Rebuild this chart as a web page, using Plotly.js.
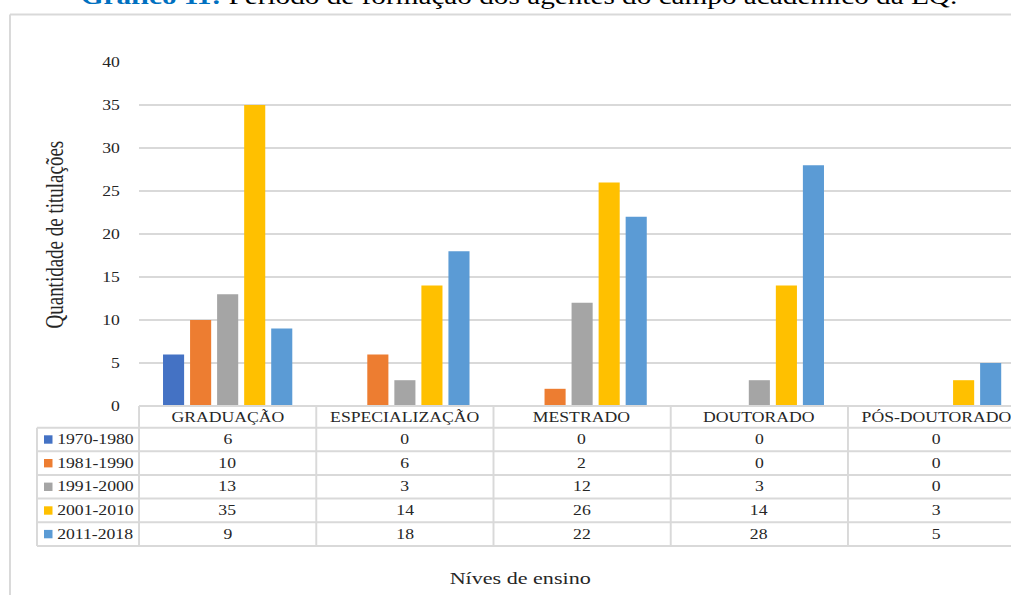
<!DOCTYPE html>
<html>
<head>
<meta charset="utf-8">
<script src="https://cdn.plot.ly/plotly-3.0.1.min.js"></script>
<style>
  html, body { margin: 0; padding: 0; background: #fff; overflow: hidden; }
  /* the figure is drawn narrower and widened horizontally, as in the printed page */
  #chart { width: 778px; height: 595px; transform: scaleX(1.2995); transform-origin: 0 0; }
</style>
</head>
<body>
<div id="chart"></div>
<script>
// Níveis de ensino (categorias do eixo X)
const categories = ['GRADUAÇÃO', 'ESPECIALIZAÇÃO', 'MESTRADO', 'DOUTORADO', 'PÓS-DOUTORADO'];

// Períodos de formação
const periods = ['1970-1980', '1981-1990', '1991-2000', '2001-2010', '2011-2018'];

// Quantidade de titulações por período
const v1970_1980 = [6, 0, 0, 0, 0];
const v1981_1990 = [10, 6, 2, 0, 0];
const v1991_2000 = [13, 3, 12, 3, 0];
const v2001_2010 = [35, 14, 26, 14, 3];
const v2011_2018 = [9, 18, 22, 28, 5];

const yTicks = [0, 5, 10, 15, 20, 25, 30, 35, 40];

const seriesValues = [v1970_1980, v1981_1990, v1991_2000, v2001_2010, v2011_2018];
const colors = ['#4472c4', '#ed7d31', '#a5a5a5', '#ffc000', '#5b9bd5'];

const FONT = 'Liberation Serif, Times New Roman, DejaVu Serif, serif';
const TEXT = '#262626';
const GRID = '#d9d9d9';

// Geometry: horizontal stretch of the page and plot area placement
const S = 1011 / 778;
const W = 778, H = 595;
const L = 107, T = 62, B = 406;
const plotW = W - L, plotH = B - T;
const px = x => (x / S - L) / plotW;  // page x -> paper x
const py = y => (B - y) / plotH;      // page y -> paper y

const traces = periods.map((name, i) => ({
  type: 'bar',
  name: name,
  x: categories,
  y: seriesValues[i],
  marker: { color: colors[i], line: { width: 0 } },
  hoverinfo: 'x+y+name'
}));

// Data table under the chart
const rowLines = [427.7, 451.3, 475, 498.6, 522.3, 546];
const rowCenters = [439.5, 463.2, 486.8, 510.5, 534.1];
const shapes = [];
const annotations = [];
const hLine = { color: GRID, width: 2 };
const vLine = { color: GRID, width: 1.5 };

// Outer chart frame
shapes.push({ type: 'line', xref: 'paper', yref: 'paper', x0: px(10), x1: px(1020), y0: py(14.5), y1: py(14.5), line: hLine });
shapes.push({ type: 'line', xref: 'paper', yref: 'paper', x0: px(10), x1: px(10), y0: py(14.5), y1: py(H + 5), line: vLine });

// Header top border
shapes.push({ type: 'line', xref: 'paper', yref: 'paper', x0: 0, x1: px(1020), y0: 0, y1: 0, line: hLine });
// Row borders
rowLines.forEach(y => {
  shapes.push({ type: 'line', xref: 'paper', yref: 'paper', x0: px(37), x1: px(1020), y0: py(y), y1: py(y), line: hLine });
});
// Column borders
shapes.push({ type: 'line', xref: 'paper', yref: 'paper', x0: px(37), x1: px(37), y0: py(rowLines[0]), y1: py(546), line: vLine });
shapes.push({ type: 'line', xref: 'paper', yref: 'paper', x0: 0, x1: 0, y0: 0, y1: py(546), line: vLine });
categories.forEach((c, i) => {
  if (i === 0) return;
  shapes.push({ type: 'line', xref: 'x', yref: 'paper', x0: i - 0.5, x1: i - 0.5, y0: 0, y1: py(546), line: vLine });
});

// Header row: category names
categories.forEach(c => {
  annotations.push({ xref: 'x', yref: 'paper', x: c, y: py(417), text: c, showarrow: false, xanchor: 'center', yanchor: 'middle', font: { family: FONT, size: 13.6, color: TEXT } });
});

// Legend keys + values per row
periods.forEach((p, r) => {
  const yc = rowCenters[r];
  shapes.push({ type: 'rect', xref: 'paper', yref: 'paper', x0: px(44), x1: px(52.5), y0: py(yc + 4.2), y1: py(yc - 4.2), fillcolor: colors[r], line: { width: 0 } });
  annotations.push({ xref: 'paper', yref: 'paper', x: px(54), y: py(yc), text: p, showarrow: false, xanchor: 'left', yanchor: 'middle', font: { family: FONT, size: 13.6, color: TEXT } });
  seriesValues[r].forEach((v, i) => {
    annotations.push({ xref: 'x', yref: 'paper', x: categories[i], y: py(yc), text: String(v), showarrow: false, xanchor: 'center', yanchor: 'middle', font: { family: FONT, size: 13.6, color: TEXT } });
  });
});

// Title (top of the page)
annotations.push({
  xref: 'paper', yref: 'paper', x: px(519), y: py(11), xanchor: 'center', yanchor: 'bottom', showarrow: false,
  text: '<b><span style="color:#0070c0">Gráfico 11:</span></b> Período de formação dos agentes do campo acadêmico da EQ.',
  font: { family: FONT, size: 22.5, color: '#000' }
});

// Axis titles
annotations.push({ xref: 'paper', yref: 'paper', x: px(54), y: py(235), text: 'Quantidade de titulações', textangle: -90, showarrow: false, xanchor: 'center', yanchor: 'middle', font: { family: FONT, size: 19, color: TEXT } });
annotations.push({ xref: 'paper', yref: 'paper', x: px(521), y: py(578), text: 'Níves de ensino', showarrow: false, xanchor: 'center', yanchor: 'middle', font: { family: FONT, size: 17, color: TEXT } });

const layout = {
  width: W, height: H,
  margin: { l: L, r: 0, t: T, b: H - B, pad: 0 },
  paper_bgcolor: '#fff', plot_bgcolor: '#fff',
  showlegend: false,
  barmode: 'group',
  bargap: 0.237,
  bargroupgap: 0.22,
  xaxis: {
    type: 'category',
    range: [-0.5, 4.42],
    showticklabels: false,
    showgrid: false, zeroline: false, showline: false, ticks: '',
    fixedrange: true
  },
  yaxis: {
    range: [0, 40],
    tickvals: yTicks,
    ticktext: yTicks.map(String),
    showgrid: true, gridcolor: GRID, gridwidth: 2,
    zeroline: false, showline: false,
    ticks: 'outside', ticklen: 11, tickcolor: 'rgba(0,0,0,0)',
    tickfont: { family: FONT, size: 13.6, color: TEXT },
    fixedrange: true
  },
  shapes: shapes,
  annotations: annotations
};

Plotly.newPlot('chart', traces, layout, { displayModeBar: false, staticPlot: true });
</script>
</body>
</html>
